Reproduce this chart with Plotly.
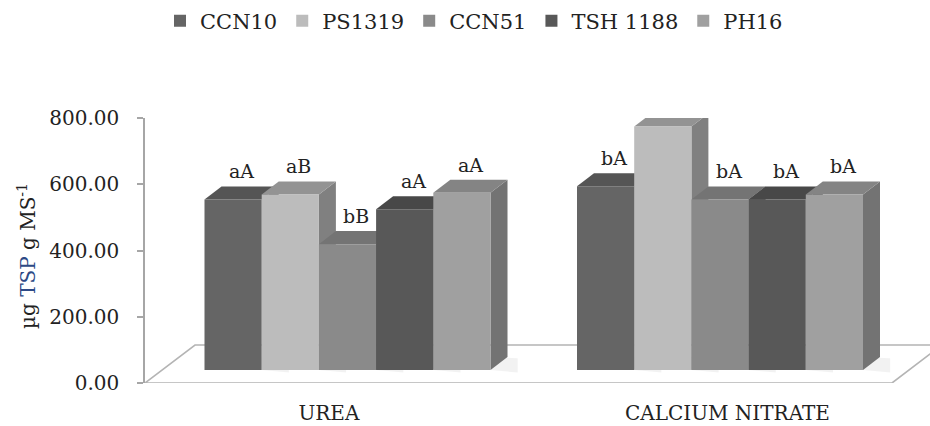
import plotly.graph_objects as go

# ---------------- data ----------------
categories = ["UREA", "CALCIUM NITRATE"]
genotypes = ["CCN10", "PS1319", "CCN51", "TSH 1188", "PH16"]
ccn10 = [515, 555]
ps1319 = [530, 735]
ccn51 = [380, 515]
tsh1188 = [485, 515]
ph16 = [535, 530]
letters_ccn10 = ["aA", "bA"]
letters_ps1319 = ["aB", "aA"]
letters_ccn51 = ["bB", "bA"]
letters_tsh1188 = ["aA", "bA"]
letters_ph16 = ["aA", "bA"]
y_ticks = [0, 200, 400, 600, 800]

series = [ccn10, ps1319, ccn51, tsh1188, ph16]
letters = [letters_ccn10, letters_ps1319, letters_ccn51, letters_tsh1188, letters_ph16]

# ---------------- styling / geometry ----------------
front_colors = ["#656565", "#bcbcbc", "#8a8a8a", "#585858", "#a0a0a0"]
top_colors = ["#555555", "#939393", "#747474", "#484848", "#848484"]
side_colors = ["#4d4d4d", "#808080", "#666666", "#404040", "#737373"]

FONT = "DejaVu Serif"
PX_PER_CAT = 372.5           # pixels between category centres
W = 57.2 / PX_PER_CAT        # bar width in category units
X_MIN = (145 - 347.5) / PX_PER_CAT
X_MAX = (930 - 347.5) / PX_PER_CAT
Y_PER_PX = 800 / 265
DX = 17 / PX_PER_CAT         # bar depth (horizontal)
DY = 13 * Y_PER_PX           # bar depth (vertical)
BASE = 13 * Y_PER_PX         # bars sit in the middle of the floor depth
FLOOR_DX = 50 / PX_PER_CAT
FLOOR_DY = 38 * Y_PER_PX
FLOOR_RIGHT = (892 - 347.5) / PX_PER_CAT
label_pos = [-0.05, 1.02]


def path(pts):
    return "M " + " L ".join(f"{x:.5f},{y:.3f}" for x, y in pts) + " Z"


fig = go.Figure()
shapes = []
annotations = []

# floor
shapes.append(dict(
    type="path", xref="x", yref="y", layer="below",
    path=path([(X_MIN, 0), (FLOOR_RIGHT, 0), (FLOOR_RIGHT + FLOOR_DX, FLOOR_DY),
               (X_MIN + FLOOR_DX, FLOOR_DY)]),
    fillcolor="white", line=dict(color="#b4b4b4", width=1.6)))

for j, (name, vals) in enumerate(zip(genotypes, series)):
    xs = [i + (j - 2) * W for i in range(len(categories))]
    fig.add_trace(go.Bar(
        x=xs, y=vals, base=BASE, width=W, name=name,
        marker=dict(color=front_colors[j], line=dict(width=0)),
        hovertemplate=name + ": %{y}<extra></extra>"))

# 3D faces (drawn below the traces, left to right)
for i in range(len(categories)):
    for j, vals in enumerate(series):
        xc = i + (j - 2) * W
        x0, x1 = xc - W / 2, xc + W / 2
        top = BASE + vals[i]
        # soft shadow on the floor
        shapes.append(dict(
            type="path", xref="x", yref="y", layer="below",
            path=path([(x1, BASE), (x1 + 1.6 * DX, BASE - 0.2 * DY),
                       (x1 + 1.6 * DX, BASE + 0.9 * DY), (x1, BASE + DY)]),
            fillcolor="rgba(0,0,0,0.05)", line=dict(width=0)))
        shapes.append(dict(
            type="path", xref="x", yref="y", layer="below",
            path=path([(x1, BASE), (x1, top), (x1 + DX, top + DY), (x1 + DX, BASE + DY)]),
            fillcolor=side_colors[j], line=dict(width=0)))
        shapes.append(dict(
            type="path", xref="x", yref="y", layer="below",
            path=path([(x0, top), (x1, top), (x1 + DX, top + DY), (x0 + DX, top + DY)]),
            fillcolor=top_colors[j], line=dict(width=0)))
        annotations.append(dict(
            x=xc + DX / 2, y=top + DY, xref="x", yref="y",
            text=letters[j][i], showarrow=False, yanchor="bottom", yshift=2,
            font=dict(family=FONT, size=19, color="#222222")))

# y-axis title
annotations.append(dict(
    x=(27 - 145) / 785, y=(383 - 256) / 265, xref="paper", yref="paper",
    text="µg <span style='color:#2d4a86'>TSP</span> g MS<sup>-1</sup>",
    textangle=-90, showarrow=False, xanchor="center", yanchor="middle",
    font=dict(family=FONT, size=20, color="#222222")))

fig.update_layout(
    width=930, height=426,
    margin=dict(l=145, r=0, t=118, b=43),
    paper_bgcolor="white", plot_bgcolor="white",
    barmode="overlay",
    shapes=shapes, annotations=annotations,
    showlegend=True,
    legend=dict(orientation="h", x=(160 - 145) / 785, xanchor="left",
                y=(383 - 21) / 265, yanchor="middle",
                font=dict(family=FONT, size=21, color="#222222"),
                bgcolor="rgba(0,0,0,0)", itemclick=False),
    font=dict(family=FONT, color="#222222"),
    xaxis=dict(range=[X_MIN, X_MAX], showgrid=False, zeroline=False, showline=False,
               tickmode="array", tickvals=label_pos, ticktext=categories,
               ticks="", tickfont=dict(family=FONT, size=20, color="#222222"),
               ticklabelstandoff=16, fixedrange=True),
    yaxis=dict(range=[0, 800], tickmode="array", tickvals=y_ticks, tickformat=".2f",
               showgrid=False, zeroline=False, showline=True, linecolor="#a6a6a6",
               linewidth=1.5, ticks="outside", ticklen=6, tickcolor="#a6a6a6",
               tickwidth=1.5, tickfont=dict(family=FONT, size=20, color="#222222"),
               ticklabelstandoff=14, fixedrange=True),
)

fig.write_html("out.html", config={"displayModeBar": False},
               post_script="document.body.style.margin='0px';")
